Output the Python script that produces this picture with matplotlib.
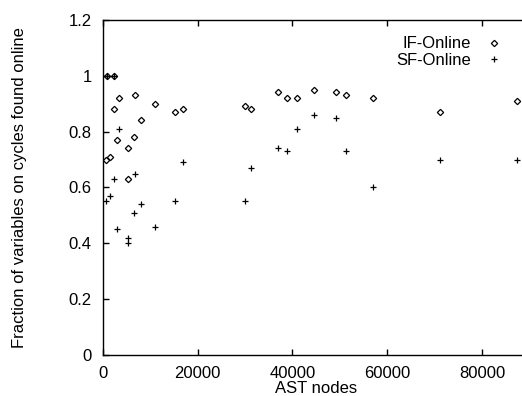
import matplotlib
matplotlib.use("Agg")
import matplotlib.pyplot as plt

# AST node counts per benchmark (shared by both series)
ast_nodes = [700, 1000, 1500, 2300, 2400, 3100, 3400, 5300, 5400, 6500, 6800,
             8100, 11000, 15200, 16900, 30000, 31200, 36900, 38900, 41000,
             44500, 49200, 51200, 56900, 71100, 87300]
if_online = [0.70, 1.00, 0.71, 0.88, 1.00, 0.77, 0.92, 0.74, 0.63, 0.78, 0.93,
             0.84, 0.90, 0.87, 0.88, 0.89, 0.88, 0.94, 0.92, 0.92,
             0.95, 0.94, 0.93, 0.92, 0.87, 0.91]
sf_online = [0.55, 1.00, 0.57, 0.63, 1.00, 0.45, 0.81, 0.42, 0.40, 0.51, 0.65,
             0.54, 0.46, 0.55, 0.69, 0.55, 0.67, 0.74, 0.73, 0.81,
             0.86, 0.85, 0.73, 0.60, 0.70, 0.70]
x_ticks = [0, 20000, 40000, 60000, 80000]
y_ticks = [0, 0.2, 0.4, 0.6, 0.8, 1.0, 1.2]
y_tick_labels = ["0", "0.2", "0.4", "0.6", "0.8", "1", "1.2"]

plt.rcParams["font.family"] = ["Liberation Sans", "DejaVu Sans"]
plt.rcParams["font.size"] = 12

fig = plt.figure(figsize=(5.22, 3.96), dpi=100)
# the plot area runs past the right edge of the picture, as in the original
ax = fig.add_axes([0.1967, 0.1028, 0.8182, 0.8475])

ax.plot(ast_nodes, if_online, linestyle="none", marker="D", markersize=3.2,
        markerfacecolor="none", markeredgecolor="black", markeredgewidth=0.9,
        label="IF-Online")
ax.plot(ast_nodes, sf_online, linestyle="none", marker="+", markersize=5,
        color="black", markeredgewidth=0.9, label="SF-Online")

ax.set_xlim(0, 90000)
ax.set_ylim(0, 1.2)
ax.set_xticks(x_ticks)
ax.set_xticklabels([str(t) for t in x_ticks])
ax.set_yticks(y_ticks)
ax.set_yticklabels(y_tick_labels)
ax.tick_params(direction="in", length=4, width=1, top=True, right=True)
ax.tick_params(axis="x", pad=8)
ax.tick_params(axis="y", pad=8)
for s in ax.spines.values():
    s.set_linewidth(1.0)

ax.set_xlabel("AST nodes", labelpad=0)
ax.set_ylabel("Fraction of variables on cycles found online", labelpad=30)

leg = ax.legend(loc="upper right", bbox_to_anchor=(0.963, 0.985),
                frameon=False, markerfirst=False, handlelength=1.0,
                handletextpad=0.9, labelspacing=0.1, borderpad=0.2)
for t in leg.get_texts():
    t.set_ha("right")

fig.savefig("out.png", dpi=100)
